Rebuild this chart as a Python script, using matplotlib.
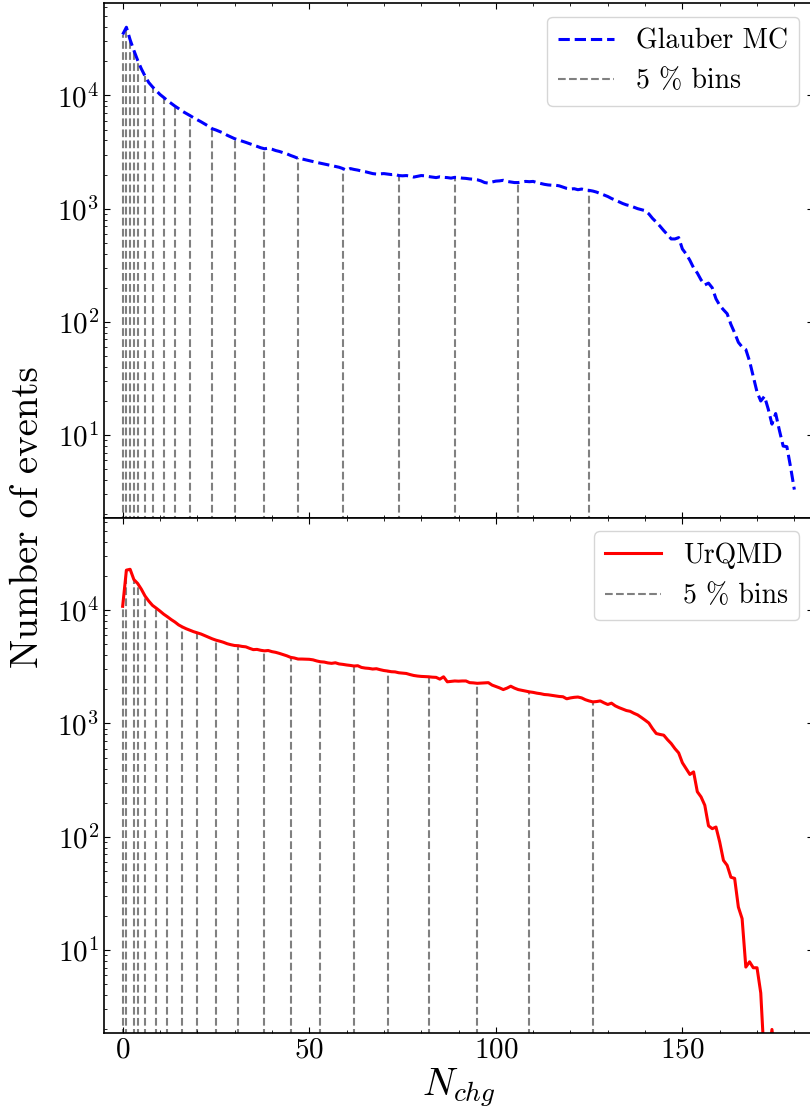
import numpy as np
import matplotlib
matplotlib.use('Agg')
from matplotlib import pyplot as plt

# Datos: numero de eventos por N_chg (paso 1)
glauber = [34500, 40000, 31000, 25000, 20500, 17200, 14800, 13000, 11900, 11000,
           10200, 9600, 9000, 8500, 8050, 7650, 7250, 6950, 6650, 6350,
           6100, 5850, 5600, 5350, 5080, 4950, 4800, 4650, 4450, 4300,
           4150, 4050, 3950, 3850, 3750, 3650, 3550, 3450, 3380, 3420,
           3350, 3260, 3200, 3120, 3050, 2950, 2870, 2780, 2750, 2700,
           2650, 2600, 2560, 2520, 2480, 2440, 2400, 2360, 2320, 2260,
           2180, 2260, 2220, 2190, 2150, 2120, 2080, 2040, 2020, 2030,
           2040, 2020, 2000, 2010, 1960, 1950, 1960, 1940, 1900, 1930,
           1960, 1950, 1920, 1900, 1880, 1910, 1890, 1880, 1860, 1890,
           1880, 1860, 1850, 1830, 1820, 1800, 1760, 1700, 1680, 1720,
           1750, 1760, 1780, 1740, 1720, 1700, 1700, 1720, 1740, 1730,
           1740, 1700, 1670, 1640, 1620, 1610, 1610, 1590, 1550, 1510,
           1490, 1500, 1470, 1490, 1460, 1450, 1430, 1400, 1360, 1320,
           1280, 1230, 1190, 1150, 1110, 1080, 1060, 1030, 1000, 980,
           960, 900, 820, 760, 700, 640, 590, 540, 540, 555,
           440, 398, 350, 300, 270, 235, 212, 220, 200, 160,
           140, 128, 118, 95, 80, 66, 60, 57, 45, 33,
           24, 20, 22, 17, 12.5, 15.5, 11, 8.0, 7.9, 5.2,
           3.3]

urqmd = [10800, 22500, 22900, 18600, 17200, 15300, 13300, 12000, 11000, 10400,
         9800, 9200, 8730, 8250, 7850, 7400, 7100, 6850, 6640, 6450,
         6300, 6150, 5950, 5750, 5580, 5430, 5320, 5200, 5050, 4950,
         4870, 4850, 4780, 4740, 4600, 4480, 4500, 4420, 4370, 4400,
         4300, 4240, 4150, 4050, 3950, 3830, 3780, 3700, 3700, 3690,
         3680, 3640, 3560, 3500, 3480, 3420, 3390, 3430, 3350, 3320,
         3280, 3250, 3210, 3230, 3120, 3080, 3060, 3020, 3040, 2980,
         2930, 2900, 2860, 2850, 2800, 2780, 2760, 2700, 2650, 2620,
         2600, 2590, 2580, 2560, 2550, 2460, 2580, 2330, 2350, 2370,
         2360, 2370, 2370, 2290, 2280, 2260, 2270, 2280, 2290, 2180,
         2120, 2060, 1990, 2050, 2130, 2050, 1990, 1960, 1930, 1900,
         1880, 1850, 1830, 1800, 1790, 1770, 1750, 1730, 1720, 1650,
         1680, 1700, 1710, 1680, 1620, 1580, 1550, 1560, 1580, 1520,
         1470, 1510, 1430, 1380, 1340, 1300, 1280, 1230, 1190, 1130,
         1070, 1010, 900, 815, 800, 788, 720, 665, 600, 550,
         450, 400, 355, 374, 250, 225, 190, 125, 118, 122,
         90, 62, 56, 44, 43, 24, 19, 7.1, 7.9, 7.0,
         7.0, 4.2, 1, 1, 2, 1]

# Bordes de los bins del 5 %
bins_glauber = [0, 1, 2, 3, 4, 6, 8, 11, 14, 18, 24, 30, 38, 47, 59, 74, 89, 106, 125]
bins_urqmd = [0, 1, 3, 4, 6, 9, 12, 16, 20, 25, 31, 38, 45, 53, 62, 71, 82, 95, 109, 126]

plt.rcParams['font.family'] = 'serif'
plt.rcParams['font.serif'] = ['cmr10']
plt.rcParams['mathtext.fontset'] = 'cm'
plt.rcParams['axes.formatter.use_mathtext'] = True
plt.rcParams['axes.linewidth'] = 1.2
plt.rcParams['xtick.direction'] = 'in'
plt.rcParams['ytick.direction'] = 'in'
plt.rcParams['xtick.top'] = True
plt.rcParams['ytick.right'] = True
plt.rcParams['xtick.major.size'] = 4.5
plt.rcParams['ytick.major.size'] = 4.5
plt.rcParams['xtick.minor.size'] = 2.4
plt.rcParams['ytick.minor.size'] = 2.4
plt.rcParams['xtick.minor.visible'] = True

fig = plt.figure(figsize=(8.1, 11.13), dpi=100)
ax1 = fig.add_axes([0.1284, 0.535, 0.8753, 0.4623])
ax2 = fig.add_axes([0.1284, 0.0721, 0.8753, 0.4629], sharex=ax1, sharey=ax1)

ymin, ymax = 1.87, 6.55e4

paneles = [(ax1, glauber, bins_glauber, 'b', '--', 'Glauber MC'),
           (ax2, urqmd, bins_urqmd, 'r', '-', 'UrQMD')]

for ax, datos, bordes, col, estilo, nombre in paneles:
    datos = np.array(datos, dtype=float)
    n = np.arange(len(datos))
    alturas = datos[bordes]
    ax.vlines(bordes, 1e-3, alturas, colors='gray', linestyles='--',
              linewidth=1.5, label='5 % bins', zorder=1)
    ax.plot(n, datos, color=col, linestyle=estilo, linewidth=2.2,
            label=nombre, zorder=2)
    ax.set_yscale('log')
    h, l = ax.get_legend_handles_labels()
    ax.legend(h[::-1], l[::-1], loc='upper right', fontsize=20,
              borderaxespad=0.5)
    ax.tick_params(labelsize=21)

ax1.set_xlim(-5, 185)
ax1.set_ylim(ymin, ymax)
ax1.set_xticks([0, 50, 100, 150])
ax1.xaxis.set_minor_locator(matplotlib.ticker.MultipleLocator(10))
ax1.tick_params(labelbottom=False)

ax2.set_xlabel(r'$N_{chg}$', fontsize=28, labelpad=2)
fig.text(0.035, 0.535, 'Number of events', fontsize=28, rotation=90,
         ha='center', va='center')

plt.savefig('out.png', dpi=100)
